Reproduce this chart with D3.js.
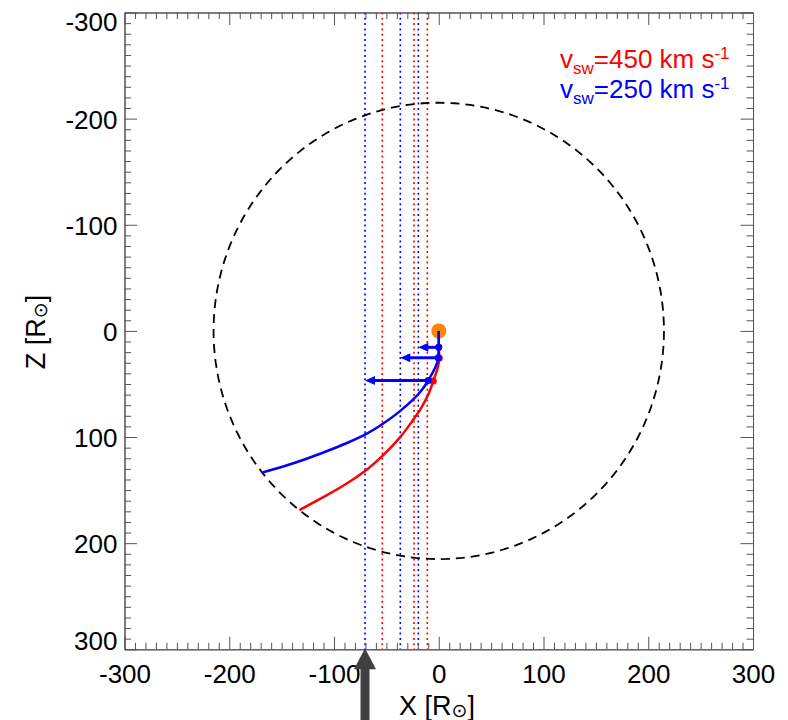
<!DOCTYPE html>
<html><head><meta charset="utf-8">
<script src="https://cdn.jsdelivr.net/npm/d3@7"></script>
<style>
html,body{margin:0;padding:0;background:#fff;}
svg{display:block;font-family:"Liberation Sans",Arial,Helvetica,sans-serif;}
</style></head><body>
<svg id="chart" width="788" height="720"></svg>
<script>
// ---------- data ----------
const xTickValues = [-300, -200, -100, 0, 100, 200, 300];
const zTickValues = [-300, -200, -100, 0, 100, 200, 300];
const minorTickValues = d3.range(-300, 301, 10).filter(v => v % 100 !== 0);

const orbitRadius = 215; // 1 AU in R_sun

// field lines (X, Z in R_sun)
const blueLineX = [0, 0, -0.5, -10, -16, -37, -53, -70, -86, -112, -144, -169];
const blueLineZ = [0, 15.5, 25.3, 46.5, 55.5, 75.6, 87.3, 97.5, 104.9, 115.3, 126.4, 133.6];
const redLineX  = [0, 0, 0.5, -5.2, -10, -17, -26, -37, -53, -70.4, -87, -112, -133];
const redLineZ  = [0, 15.5, 25.5, 47.4, 60, 73, 86, 100.3, 117, 132, 143.3, 157.6, 168.8];

// points along the lines
const redDotX  = [0, 0.5, -5.2];
const redDotZ  = [15.5, 25.5, 47.2];
const blueDotX = [0, -0.5, -10];
const blueDotZ = [15.5, 25.3, 46.7];
const blueArrowTipX = [-19.5, -36.7, -70.4];

// vertical dotted markers
const blueMarkX = [-70.4, -36.7, -19.5];
const redMarkX  = [-53.9, -23.6, -10.9];

const observerX = -70.4;

const legendSpeeds = ["450", "250"];
const legendColors = ["#ff0000", "#0000ff"];

// ---------- layout ----------
const svg = d3.select("#chart");
const x = d3.scaleLinear().domain([-300, 300]).range([124.5, 753]);
const z = d3.scaleLinear().domain([-300, 300]).range([12.5, 649.3]);
const axisColor = "#555";
const fontFam = '"Liberation Sans", Arial, Helvetica, sans-serif';

// dotted vertical lines
function vlines(vals, color) {
  svg.append("g").selectAll("line").data(vals).join("line")
    .attr("x1", d => x(d)).attr("x2", d => x(d))
    .attr("y1", z(-300)).attr("y2", z(300))
    .attr("stroke", color).attr("stroke-width", 1.6)
    .attr("stroke-dasharray", "2,3.3");
}
vlines(blueMarkX, "#0000ff");
vlines(redMarkX, "#ff0000");

// orbit circle (dashed)
const circPts = d3.range(0, 361, 2).map(a => {
  const t = a * Math.PI / 180;
  return [x(orbitRadius * Math.cos(t)), z(orbitRadius * Math.sin(t))];
});
svg.append("path").attr("d", d3.line()(circPts))
  .attr("fill", "none").attr("stroke", "#000").attr("stroke-width", 1.8)
  .attr("stroke-dasharray", "9,6");

// sun
svg.append("circle").attr("cx", x(0)).attr("cy", z(0)).attr("r", 7.5).attr("fill", "#ff8400");

const line = d3.line().x(d => x(d[0])).y(d => z(d[1])).curve(d3.curveMonotoneY);

// red line and dots
svg.append("path").attr("d", line(redLineX.map((v, i) => [v, redLineZ[i]])))
  .attr("fill", "none").attr("stroke", "#ff0000").attr("stroke-width", 2.5);
svg.append("g").selectAll("circle").data(redDotX).join("circle")
  .attr("cx", d => x(d)).attr("cy", (d, i) => z(redDotZ[i])).attr("r", 3.5).attr("fill", "#ff0000");

// blue line
svg.append("path").attr("d", line(blueLineX.map((v, i) => [v, blueLineZ[i]])))
  .attr("fill", "none").attr("stroke", "#0000ff").attr("stroke-width", 2.5);

// blue arrows
const headLen = 10, headHalf = 4.5;
blueDotX.forEach((bx, i) => {
  const y0 = z(blueDotZ[i]);
  const xt = x(blueArrowTipX[i]);
  svg.append("line").attr("x1", x(bx)).attr("x2", xt + headLen - 1)
    .attr("y1", y0).attr("y2", y0).attr("stroke", "#0000ff").attr("stroke-width", 3);
  svg.append("path")
    .attr("d", `M${xt},${y0}L${xt + headLen},${y0 - headHalf}L${xt + headLen},${y0 + headHalf}Z`)
    .attr("fill", "#0000ff");
});
svg.append("g").selectAll("circle").data(blueDotX).join("circle")
  .attr("cx", d => x(d)).attr("cy", (d, i) => z(blueDotZ[i])).attr("r", 3.5).attr("fill", "#0000ff");

// ---------- axes ----------
function styleAxis(g) {
  g.attr("color", axisColor).attr("font-size", 26).attr("font-family", fontFam);
  g.selectAll(".tick text").attr("fill", "#000");
  g.selectAll("line, path").attr("stroke-width", 1);
}
// bottom
const gB = svg.append("g").attr("transform", `translate(0,${z(300)})`)
  .call(d3.axisBottom(x).tickValues(xTickValues).tickSizeInner(-12.5).tickSizeOuter(0).tickPadding(15).tickFormat(d3.format("d")));
styleAxis(gB);
gB.selectAll(".tick text").text(d => d < 0 ? "-" + Math.abs(d) : d);
svg.append("g").attr("transform", `translate(0,${z(300)})`)
  .call(d3.axisBottom(x).tickValues(minorTickValues).tickSizeInner(-6.5).tickSizeOuter(0).tickFormat(""))
  .call(styleAxis);
// top
svg.append("g").attr("transform", `translate(0,${z(-300)})`)
  .call(d3.axisTop(x).tickValues(xTickValues).tickSizeInner(-12.5).tickSizeOuter(0).tickFormat(""))
  .call(styleAxis);
svg.append("g").attr("transform", `translate(0,${z(-300)})`)
  .call(d3.axisTop(x).tickValues(minorTickValues).tickSizeInner(-6.5).tickSizeOuter(0).tickFormat(""))
  .call(styleAxis);
// left
const gL = svg.append("g").attr("transform", `translate(${x(-300)},0)`)
  .call(d3.axisLeft(z).tickValues(zTickValues).tickSizeInner(-12.5).tickSizeOuter(0).tickPadding(7));
styleAxis(gL);
gL.selectAll(".tick text").text(d => d < 0 ? "-" + Math.abs(d) : d).attr("dy", "0.36em")
  .attr("y", d => d === -300 ? 8.2 : d === 300 ? -9.3 : 0);
svg.append("g").attr("transform", `translate(${x(-300)},0)`)
  .call(d3.axisLeft(z).tickValues(minorTickValues).tickSizeInner(-6.5).tickSizeOuter(0).tickFormat(""))
  .call(styleAxis);
// right
svg.append("g").attr("transform", `translate(${x(300)},0)`)
  .call(d3.axisRight(z).tickValues(zTickValues).tickSizeInner(-12.5).tickSizeOuter(0).tickFormat(""))
  .call(styleAxis);
svg.append("g").attr("transform", `translate(${x(300)},0)`)
  .call(d3.axisRight(z).tickValues(minorTickValues).tickSizeInner(-6.5).tickSizeOuter(0).tickFormat(""))
  .call(styleAxis);

// axis titles
function axisTitle(sel, letter) {
  sel.attr("font-size", 27).attr("font-family", fontFam).attr("fill", "#000").attr("text-anchor", "middle");
  sel.append("tspan").text(letter + " [R");
  sel.append("tspan").text("\u2299").attr("font-size", 19).attr("dy", 2)
     .attr("font-family", '"DejaVu Sans", sans-serif');
  sel.append("tspan").text("]").attr("dy", -2);
}
svg.append("text").attr("x", 437).attr("y", 715).call(axisTitle, "X");
svg.append("text").attr("transform", "translate(45,332) rotate(-90)").call(axisTitle, "Z");

// legend
legendSpeeds.forEach((s, i) => {
  const t = svg.append("text").attr("x", 560).attr("y", 68 + i * 30)
    .attr("font-size", 26).attr("font-family", fontFam).attr("fill", legendColors[i]);
  t.append("tspan").text("v");
  t.append("tspan").text("sw").attr("font-size", 17).attr("dy", 6);
  t.append("tspan").text("=" + s + " km s").attr("dy", -6);
  t.append("tspan").text("-1").attr("font-size", 17).attr("dy", -9);
});

// big observer arrow at bottom
const ax = x(observerX);
const tipY = z(300) - 1;
svg.append("path")
  .attr("d", `M${ax},${tipY}L${ax + 11},${tipY + 21}L${ax + 4.5},${tipY + 21}L${ax + 4.5},720L${ax - 4.5},720L${ax - 4.5},${tipY + 21}L${ax - 11},${tipY + 21}Z`)
  .attr("fill", "#404040");
</script>
</body></html>
